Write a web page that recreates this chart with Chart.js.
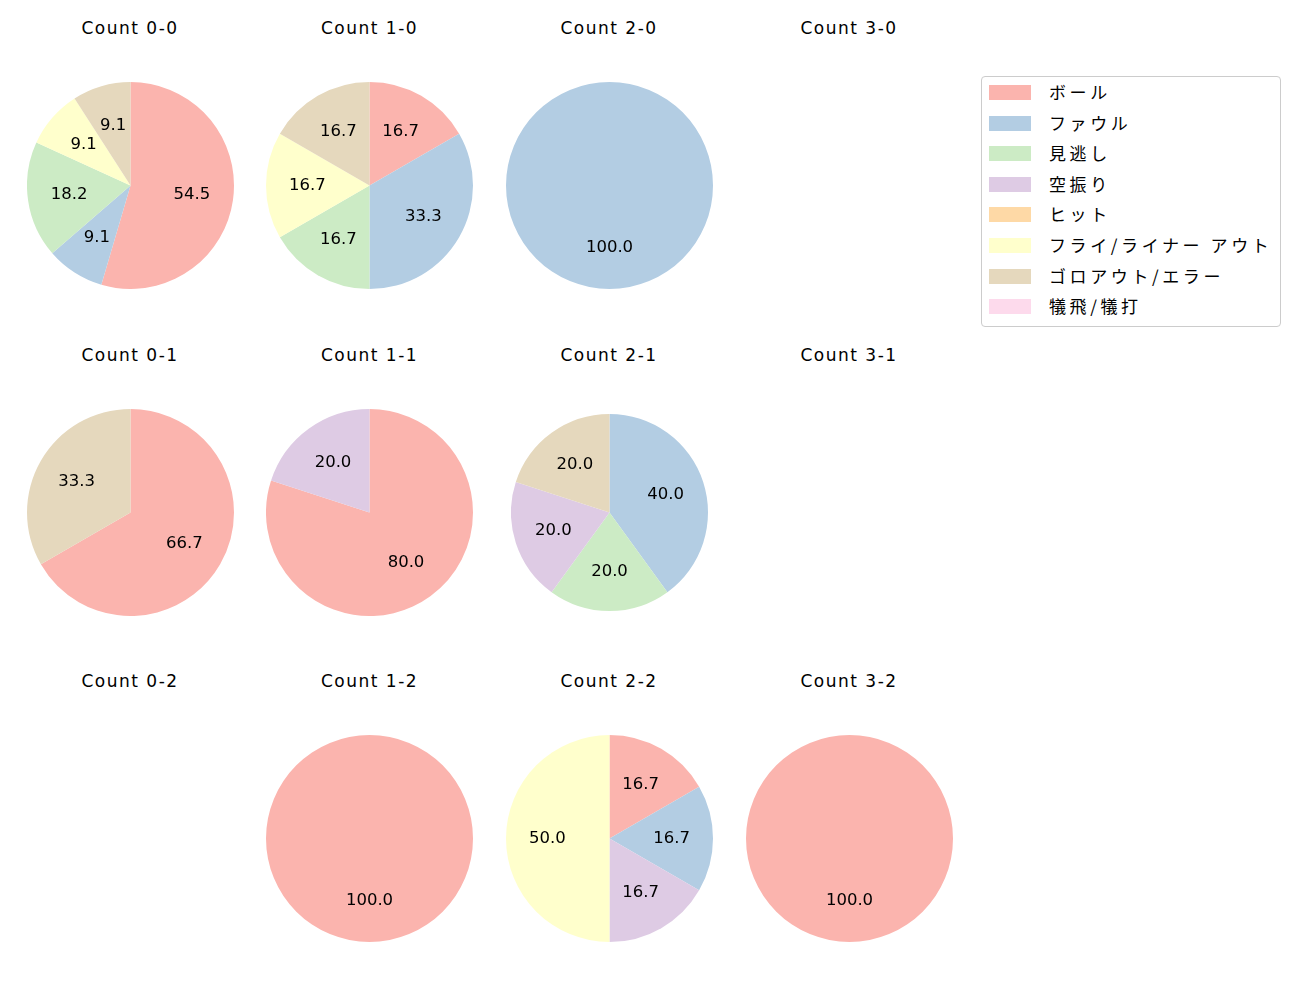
<!DOCTYPE html>
<html>
<head>
<meta charset="utf-8">
<script src="https://cdn.jsdelivr.net/npm/chart.js@4.4.0/dist/chart.umd.min.js"></script>
<style>
  body { margin: 0; background: #fff; font-family: "DejaVu Sans", "Noto Sans CJK JP", sans-serif; }
  #wrap { position: relative; width: 1300px; height: 1000px; }
  .ttl { position: absolute; width: 200px; text-align: center; font-size: 17px; color: #000; line-height: 20px; letter-spacing: 1.5px; }
  canvas { position: absolute; }
  #legend { position: absolute; left: 981px; top: 76px; width: 298px; height: 249px; border: 1px solid #ccc; border-radius: 4px; }
  .li { position: absolute; left: 7px; height: 20px; font-size: 17px; line-height: 20px; color: #000; }
  .li span.sw { position: absolute; left: 0; top: 3px; width: 42px; height: 15px; }
  .li span.tx { position: absolute; left: 60px; white-space: nowrap; letter-spacing: 3.6px; font-family: "Noto Sans CJK JP", sans-serif; }
</style>
</head>
<body>
<div id="wrap"><div id="legend"></div></div>
<script>
// カテゴリと色
const categories = ['ボール', 'ファウル', '見逃し', '空振り', 'ヒット', 'フライ/ライナー アウト', 'ゴロアウト/エラー', '犠飛/犠打'];
const colors = ['#fbb4ae', '#b3cde3', '#ccebc5', '#decbe4', '#fed9a6', '#ffffcc', '#e5d8bd', '#fddaec'];

// カウント別の件数 (カテゴリ順)
const count00 = [6, 1, 2, 0, 0, 1, 1, 0];
const count10 = [1, 2, 1, 0, 0, 1, 1, 0];
const count20 = [0, 1, 0, 0, 0, 0, 0, 0];
const count30 = [];
const count01 = [2, 0, 0, 0, 0, 0, 1, 0];
const count11 = [4, 0, 0, 1, 0, 0, 0, 0];
const count21 = [0, 2, 1, 1, 0, 0, 1, 0];
const count31 = [];
const count02 = [];
const count12 = [1, 0, 0, 0, 0, 0, 0, 0];
const count22 = [1, 1, 0, 1, 0, 3, 0, 0];
const count32 = [1, 0, 0, 0, 0, 0, 0, 0];

const panels = [
  { title: 'Count 0-0', data: count00, col: 0, row: 0 },
  { title: 'Count 1-0', data: count10, col: 1, row: 0 },
  { title: 'Count 2-0', data: count20, col: 2, row: 0 },
  { title: 'Count 3-0', data: count30, col: 3, row: 0 },
  { title: 'Count 0-1', data: count01, col: 0, row: 1 },
  { title: 'Count 1-1', data: count11, col: 1, row: 1 },
  { title: 'Count 2-1', data: count21, col: 2, row: 1, r: 98.5 },
  { title: 'Count 3-1', data: count31, col: 3, row: 1 },
  { title: 'Count 0-2', data: count02, col: 0, row: 2 },
  { title: 'Count 1-2', data: count12, col: 1, row: 2 },
  { title: 'Count 2-2', data: count22, col: 2, row: 2 },
  { title: 'Count 3-2', data: count32, col: 3, row: 2 }
];

const colX = [130, 369.5, 609, 849];
const rowY = [185.5, 512.5, 838.5];
const titleY = [28, 355, 681];

// パーセント表示 (半径の0.6の位置)
const pctLabels = {
  id: 'pctLabels',
  afterDatasetsDraw(chart) {
    const ctx = chart.ctx;
    const ds = chart.data.datasets[0];
    const total = ds.data.reduce((a, b) => a + b, 0);
    chart.getDatasetMeta(0).data.forEach((arc, i) => {
      const v = ds.data[i];
      if (!v) return;
      const mid = (arc.startAngle + arc.endAngle) / 2;
      const rr = arc.outerRadius * 0.6;
      const x = arc.x + Math.cos(mid) * rr;
      const y = arc.y + Math.sin(mid) * rr;
      ctx.save();
      ctx.fillStyle = '#000';
      ctx.font = '16.5px "DejaVu Sans", sans-serif';
      ctx.textAlign = 'center';
      ctx.textBaseline = 'middle';
      ctx.fillText((v / total * 100).toFixed(1), x, y);
      ctx.restore();
    });
  }
};

const wrap = document.getElementById('wrap');

panels.forEach(p => {
  const t = document.createElement('div');
  t.className = 'ttl';
  t.textContent = p.title;
  t.style.left = (colX[p.col] - 100) + 'px';
  t.style.top = (titleY[p.row] - 10) + 'px';
  wrap.appendChild(t);

  if (!p.data.length) return;
  const r = p.r || 103.5;
  const size = Math.round(r * 2);
  const cv = document.createElement('canvas');
  cv.width = size;
  cv.height = size;
  cv.style.left = (colX[p.col] - size / 2) + 'px';
  cv.style.top = (rowY[p.row] - size / 2) + 'px';
  wrap.appendChild(cv);

  new Chart(cv.getContext('2d'), {
    type: 'pie',
    data: {
      labels: categories,
      datasets: [{
        data: p.data,
        backgroundColor: colors,
        borderWidth: 0
      }]
    },
    options: {
      responsive: false,
      animation: false,
      layout: { padding: 0 },
      plugins: {
        legend: { display: false },
        tooltip: { enabled: false }
      }
    },
    plugins: [pctLabels]
  });
});

// 凡例
const legend = document.getElementById('legend');
categories.forEach((c, i) => {
  const li = document.createElement('div');
  li.className = 'li';
  li.style.top = (5 + i * 30.6) + 'px';
  li.innerHTML = `<span class="sw" style="background:${colors[i]}"></span><span class="tx">${c}</span>`;
  legend.appendChild(li);
});
</script>
</body>
</html>
